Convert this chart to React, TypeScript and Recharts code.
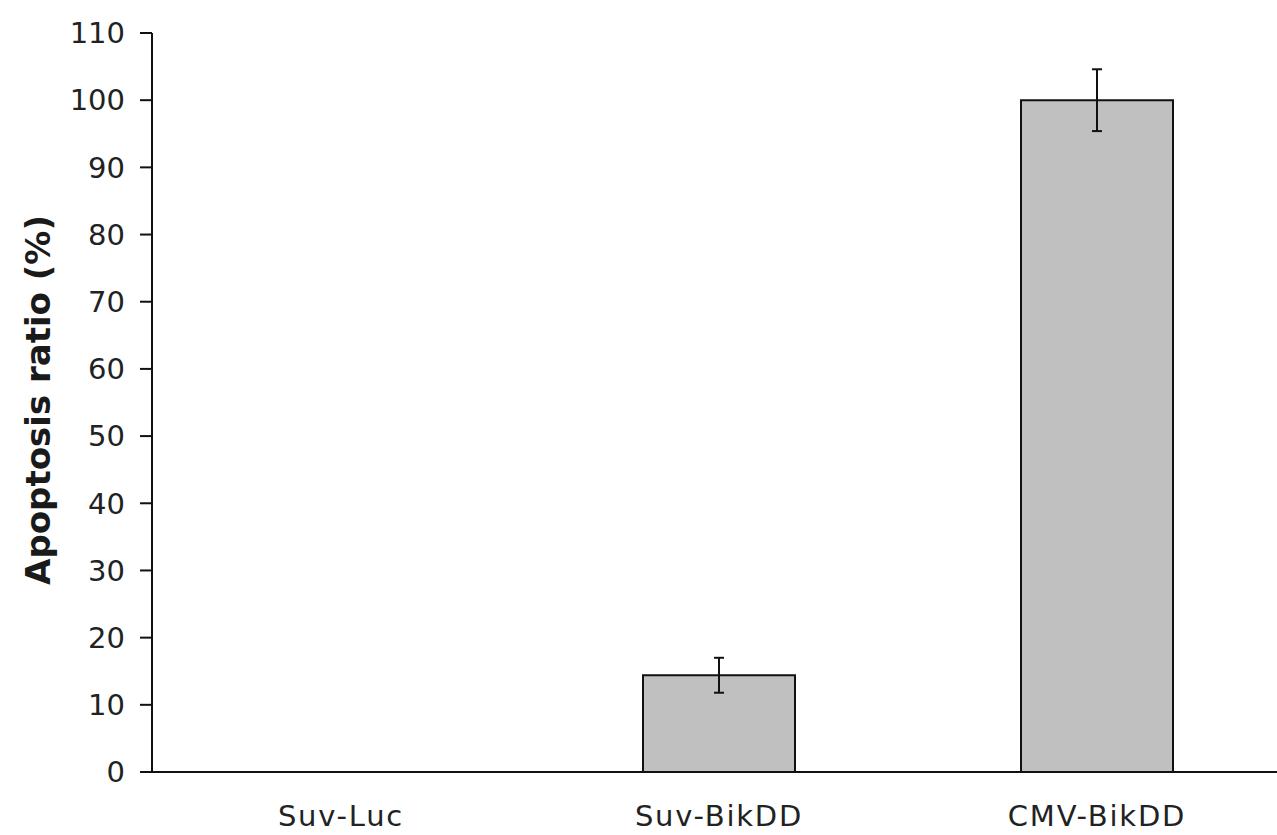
import { Bar, BarChart, ErrorBar, XAxis, YAxis } from "recharts";

const CATEGORIES = ["Suv-Luc", "Suv-BikDD", "CMV-BikDD"];
const RATIO = [0, 14.4, 100];
const ERRORS = [0, 2.6, 4.6];
const Y_TICKS = [0, 10, 20, 30, 40, 50, 60, 70, 80, 90, 100, 110];

const data = CATEGORIES.map((name, i) => ({ name, ratio: RATIO[i], err: ERRORS[i] }));

const FONT = "'DejaVu Sans', Verdana, sans-serif";
const yTickStyle = { fontSize: 29, fill: "#222", fontFamily: FONT };
const xTickStyle = { ...yTickStyle, letterSpacing: 1.8 };

function YLabel() {
  return (
    <text
      x={50}
      y={400}
      transform="rotate(-90, 50, 400)"
      textAnchor="middle"
      style={{ fontSize: 34, fontWeight: 700, fill: "#1a1a1a", fontFamily: FONT }}
    >
      Apoptosis ratio (%)
    </text>
  );
}

export default function App() {
  return (
    <div
      style={{
        position: "absolute",
        left: 0,
        top: 0,
        width: 1277,
        height: 835,
        overflow: "hidden",
        background: "#fff",
      }}
    >
      <BarChart
        width={1286}
        height={835}
        data={data}
        margin={{ top: 33, right: 0, left: 0, bottom: 0 }}
      >
        <XAxis
          dataKey="name"
          height={63}
          tickLine={false}
          tickSize={0}
          tickMargin={33}
          axisLine={{ stroke: "#111", strokeWidth: 2 }}
          tick={xTickStyle}
          interval={0}
        />
        <YAxis
          width={152}
          domain={[0, 110]}
          ticks={Y_TICKS}
          interval={0}
          tickSize={12}
          tickMargin={15}
          axisLine={{ stroke: "#111", strokeWidth: 2 }}
          tickLine={{ stroke: "#111", strokeWidth: 2 }}
          tick={yTickStyle}
          label={<YLabel />}
        />
        <Bar
          dataKey="ratio"
          fill="#c0c0c0"
          stroke="#111"
          strokeWidth={2}
          barSize={152}
          isAnimationActive={false}
        >
          <ErrorBar dataKey="err" width={5} stroke="#111" strokeWidth={2} isAnimationActive={false} />
        </Bar>
      </BarChart>
    </div>
  );
}
